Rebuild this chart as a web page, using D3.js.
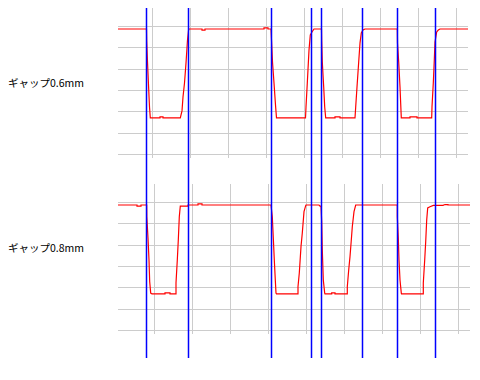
<!DOCTYPE html>
<html><head><meta charset="utf-8">
<script src="https://cdn.jsdelivr.net/npm/d3@7"></script>
<style>
html,body{margin:0;padding:0;background:#fff;}
svg{display:block;}
</style></head>
<body>
<script>
// ---- data ----
const panelLabels = ["ギャップ0.6mm", "ギャップ0.8mm"];
const levelTicks = [0, 1, 2, 3, 4, 5, 6];
const timeTicksTop = [34, 72, 110, 148, 186, 224, 262, 300, 338];
const timeTicksBottom = [36, 74, 112, 150, 188, 226, 264, 302, 340];
const markerTimes = [28, 70, 153, 193, 203, 244, 279, 317];

const topTime = [0,28.5,28.7,29.5,30.5,31.5,32.3,42,42,45,45,62.3,64,65,66.5,68,69.5,70.7,84,84,87,87,146,146,150,150,153,153.5,154.5,156,157.5,158.5,187.5,188,189.3,191,192.3,194,196,203.5,203.7,204.3,205.7,206.7,207.7,217,217,222,222,237,237.7,239,240.7,242,243.3,245,247,279.3,279.5,280.7,282,283.3,292,292,299,299,313.7,314,315.3,316.3,317,318.7,320.3,322,350];
const topVolt = [5.86,5.86,5.30,4.31,3.23,2.20,1.69,1.69,1.74,1.74,1.69,1.69,2.02,2.67,3.33,4.26,5.34,5.86,5.86,5.81,5.81,5.86,5.86,5.91,5.91,5.86,5.86,5.34,4.31,3.33,2.30,1.69,1.69,2.20,3.33,4.87,5.58,5.72,5.86,5.86,5.30,4.31,3.14,2.20,1.69,1.69,1.74,1.74,1.69,1.69,2.20,3.14,4.31,5.20,5.67,5.81,5.86,5.86,5.20,4.31,3.14,1.69,1.69,1.74,1.74,1.69,1.69,2.20,3.33,4.41,5.25,5.72,5.81,5.86,5.86];

const botTime = [0,19,19,23,23,28.7,28.8,30,31,31.7,32.7,34,47,47,52,52,58,58,59.3,60.3,61.3,62.3,63,70,70,80,80,84,84,153,154.3,155.3,156.3,157.3,158,158.5,180,180,181.3,183,184.3,186,187.7,188,201,202,203,203.7,204.3,205.3,206.7,207,213.7,213.7,217,217,229.3,229.3,230.7,232,233.3,234.3,236,237.7,279.3,279.3,280.3,281,282,283.3,283.5,305.3,305.3,306.7,307.7,308.7,309.7,312,315.3,325,327,330,330,352];
const botVolt = [5.86,5.86,5.81,5.81,5.86,5.86,5.31,4.31,3.28,2.26,1.73,1.69,1.69,1.74,1.74,1.69,1.69,2.20,3.28,4.22,5.31,5.81,5.81,5.81,5.86,5.86,5.91,5.91,5.86,5.86,5.31,4.31,3.28,2.34,1.73,1.69,1.69,2.03,2.67,3.91,4.55,5.55,5.83,5.86,5.86,5.81,5.81,5.08,3.75,2.34,1.73,1.69,1.69,1.74,1.74,1.69,1.69,2.03,2.81,3.44,4.22,4.84,5.55,5.86,5.86,5.31,4.31,3.28,2.34,1.73,1.69,1.69,2.20,3.28,4.14,5.16,5.72,5.78,5.84,5.84,5.88,5.88,5.86,5.86];

// ---- layout ----
const W = 480, H = 380;
const svg = d3.select("body").append("svg").attr("width", W).attr("height", H);

const x = d3.scaleLinear().domain([0, 350]).range([118, 468]);

const panels = [
  {label: panelLabels[0], time: topTime, volt: topVolt, ticks: timeTicksTop, yTop: 26, yBot: 154, gridRight: 350, labelY: 87},
  {label: panelLabels[1], time: botTime, volt: botVolt, ticks: timeTicksBottom, yTop: 202, yBot: 330, gridRight: 352, labelY: 252}
];

panels.forEach(p => {
  const y = d3.scaleLinear().domain([0, 6]).range([p.yBot, p.yTop]);
  const g = svg.append("g");

  // vertical grid
  const vAxis = d3.axisBottom(x).tickValues(p.ticks).tickSize(-(p.yBot - p.yTop + 22)).tickFormat("");
  const vg = g.append("g").attr("transform", `translate(0,${p.yBot + 4})`).call(vAxis);
  // horizontal grid
  const hAxis = d3.axisLeft(y).tickValues(levelTicks).tickSize(-(x(p.gridRight) - x(0))).tickFormat("");
  const hg = g.append("g").attr("transform", `translate(${x(0)},0)`).call(hAxis);
  [vg, hg].forEach(a => {
    a.select(".domain").remove();
    a.selectAll(".tick line").attr("stroke", "#cccccc").attr("stroke-width", 1).attr("shape-rendering", "crispEdges");
  });

  // trace
  const pts = p.time.map((t, i) => [t, p.volt[i]]);
  g.append("path")
    .datum(pts)
    .attr("fill", "none")
    .attr("stroke", "#ff0000")
    .attr("stroke-width", 1.2)
    .attr("d", d3.line().x(d => x(d[0])).y(d => y(d[1])));

  g.append("text")
    .attr("x", 8).attr("y", p.labelY)
    .attr("font-family", "'Noto Sans CJK JP', sans-serif")
    .attr("font-size", 10.5)
    .attr("fill", "#000")
    .text(p.label);
});

// marker lines
svg.append("g").selectAll("line").data(markerTimes).join("line")
  .attr("x1", d => Math.round(x(d)) + 0.5).attr("x2", d => Math.round(x(d)) + 0.5)
  .attr("y1", 8).attr("y2", 358)
  .attr("stroke", "#0000ff").attr("stroke-width", 1.5);
</script>
</body></html>
